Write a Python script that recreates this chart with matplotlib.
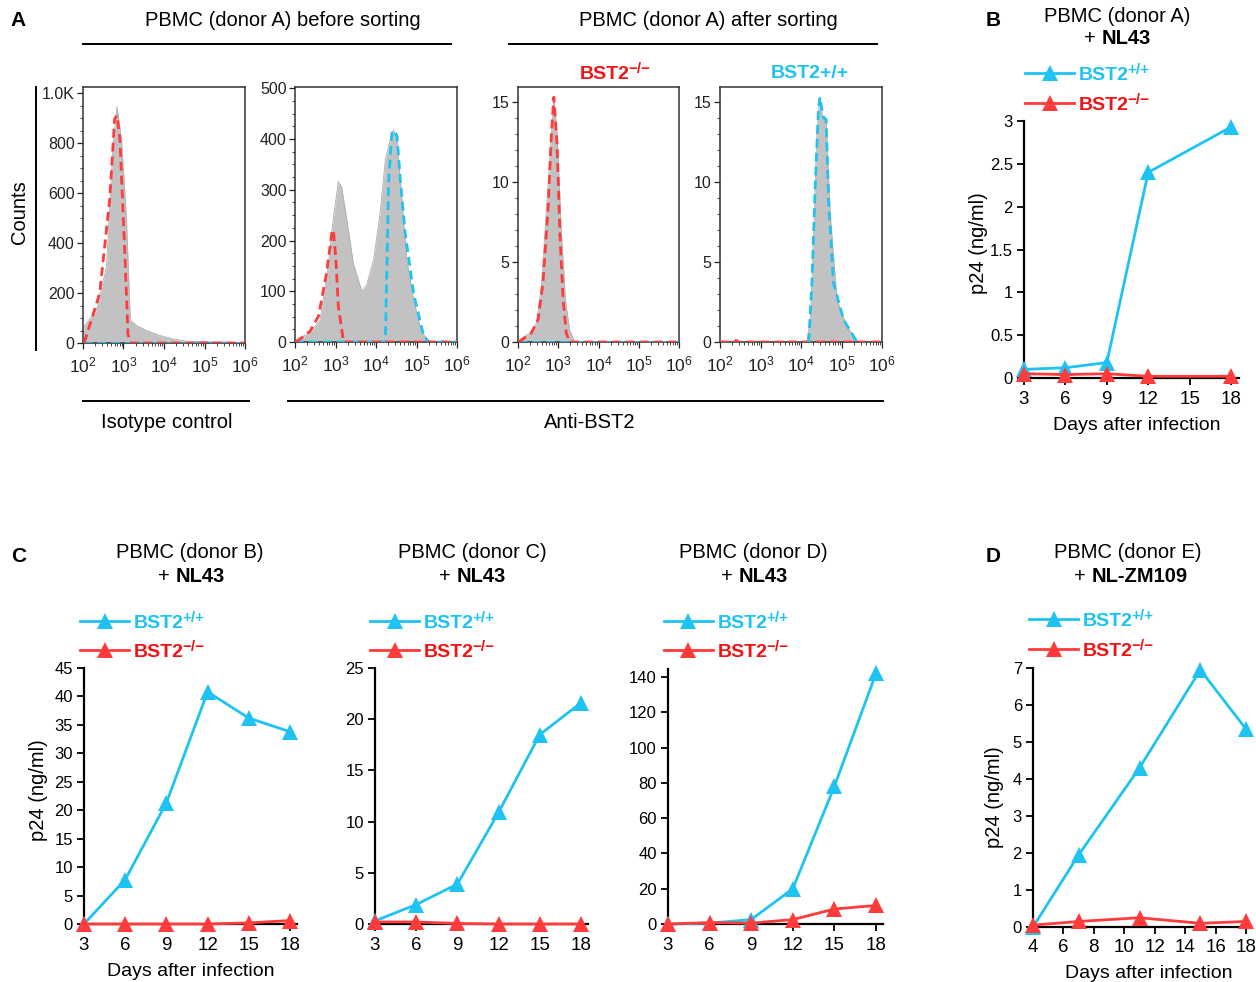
import numpy as np
import matplotlib
matplotlib.use('Agg')
import matplotlib.pyplot as plt
from matplotlib.lines import Line2D
from matplotlib.text import Annotation
from matplotlib.ticker import MultipleLocator, FixedLocator, FixedFormatter, LogLocator, NullFormatter

plt.rcParams['font.family'] = ['Liberation Sans', 'DejaVu Sans']
plt.rcParams['mathtext.fontset'] = 'custom'
plt.rcParams['mathtext.rm'] = 'Liberation Sans'
plt.rcParams['mathtext.bf'] = 'Liberation Sans:bold'
plt.rcParams['mathtext.it'] = 'Liberation Sans:italic'

# ---------------- data ----------------
# Panel A histograms: log10 fluorescence and counts
iso_grey_log = [2.0, 2.04, 2.33, 2.58, 2.74, 2.84, 2.95, 3.07, 3.17, 3.32, 3.57, 3.9, 4.23, 4.56, 6.0]
iso_grey_cnt = [40, 70, 130, 305, 790, 945, 815, 507, 90, 70, 50, 30, 16, 7, 2]
iso_red_log = [2.03, 2.41, 2.66, 2.78, 2.84, 2.91, 3.03, 3.11, 3.17, 6.0]
iso_red_cnt = [0, 198, 574, 896, 910, 816, 372, 36, 0, 0]
iso_cyan_log = [2.0, 6.0]
iso_cyan_cnt = [0, 0]

pre_grey_log = [2.0, 2.04, 2.37, 2.62, 2.82, 2.95, 3.07, 3.15, 3.28, 3.44, 3.65, 3.77, 3.94, 4.1,
                4.23, 4.35, 4.43, 4.52, 4.6, 4.76, 4.93, 5.13, 5.34, 6.0]
pre_grey_cnt = [0, 5, 18, 44, 149, 247, 316, 306, 241, 155, 100, 113, 162, 254,
                359, 398, 418, 398, 320, 162, 83, 18, 1, 0]
pre_red_log = [2.03, 2.37, 2.58, 2.78, 2.91, 2.95, 3.01, 3.07, 3.2, 6.0]
pre_red_cnt = [0, 21, 51, 136, 215, 221, 162, 70, 0, 0]
pre_cyan_log = [2.0, 4.23, 4.27, 4.31, 4.39, 4.45, 4.52, 4.6, 4.72, 4.93, 5.18, 5.3, 6.0]
pre_cyan_cnt = [0, 0, 149, 313, 411, 417, 405, 320, 215, 95, 11, 0, 0]

neg_grey_log = [2.0, 2.04, 2.29, 2.46, 2.58, 2.7, 2.83, 2.89, 2.97, 3.08, 3.18, 3.28, 3.41, 6.0]
neg_grey_cnt = [0, 0.15, 0.56, 1.18, 3.47, 8.04, 13.0, 15.3, 13.0, 6.8, 2.6, 0.77, 0, 0]
neg_red_log = [2.02, 2.33, 2.5, 2.62, 2.75, 2.83, 2.89, 2.97, 3.04, 3.12, 3.2, 3.28, 6.0]
neg_red_cnt = [0, 0.56, 1.4, 3.7, 8.46, 13.0, 15.3, 12.4, 6.8, 2.64, 0.56, 0, 0]
neg_cyan_log = [2.0, 6.0]
neg_cyan_cnt = [0, 0]

pos_grey_log = [2.0, 4.14, 4.23, 4.31, 4.39, 4.46, 4.54, 4.62, 4.72, 4.89, 5.13, 5.42, 6.0]
pos_grey_cnt = [0, 0, 1.4, 6.8, 13.0, 15.3, 13.9, 13.9, 8.04, 2.64, 0.98, 0, 0]
pos_cyan_log = [4.19, 4.27, 4.35, 4.43, 4.47, 4.54, 4.62, 4.68, 4.8, 5.05, 5.38]
pos_cyan_cnt = [0, 3.7, 9.7, 14.5, 15.3, 14.1, 13.9, 8.9, 3.7, 1.4, 0]
pos_red_log = [2.0, 2.35, 2.4, 2.45, 6.0]
pos_red_cnt = [0, 0, 0.1, 0, 0]

# Panel B (donor A, NL43)
b_days_pos = [3, 6, 9, 12, 18]
b_pos = [0.10, 0.12, 0.18, 2.40, 2.93]
b_days_neg = [3, 6, 9, 12, 18]
b_neg = [0.05, 0.04, 0.05, 0.02, 0.02]

# Panel C
c_days = [3, 6, 9, 12, 15, 18]
cB_pos = [0.0, 7.8, 21.3, 40.8, 36.2, 33.8]
cB_neg = [0.0, 0.0, 0.0, 0.0, 0.2, 0.6]
cC_pos = [0.3, 1.9, 3.9, 10.9, 18.5, 21.6]
cC_neg = [0.2, 0.2, 0.05, 0.0, 0.0, 0.0]
cD_pos = [0.0, 0.5, 2.5, 20.0, 78.0, 142.0]
cD_neg = [0.0, 0.8, 0.5, 2.5, 8.5, 10.5]

# Panel D (donor E, NL-ZM109)
d_days = [4, 7, 11, 15, 18]
d_pos = [0.0, 1.95, 4.3, 6.95, 5.35]
d_neg = [0.05, 0.15, 0.25, 0.10, 0.15]

# ---------------- style ----------------
CYAN = '#1ec3f2'
RED = '#ff3b3b'
RED_TXT = '#f01414'
CYAN_TXT = '#1ec3f2'
GREY = '#c2c2c2'
TFS = 14.5

W, H = 1256, 982
fig = plt.figure(figsize=(W / 100, H / 100), dpi=100)


def fx(px):
    return px / W


def fy(py):
    return 1 - py / H


def add_ax(l, t, r, b):
    return fig.add_axes([l / W, 1 - b / H, (r - l) / W, (b - t) / H])


def hline(x0, x1, y, lw=1.4):
    fig.add_artist(Line2D([fx(x0), fx(x1)], [fy(y), fy(y)], color='black', lw=lw))


def vline(x, y0, y1, lw=1.4):
    fig.add_artist(Line2D([fx(x), fx(x)], [fy(y0), fy(y1)], color='black', lw=lw))


def ftext(x, y, s, **kw):
    return fig.text(fx(x), fy(y), s, **kw)


def sup_label(x, baseline, sup, color, fs=14):
    t = ftext(x, baseline, 'BST2', ha='left', va='baseline', fontsize=fs, color=color,
              fontweight='bold')
    fig.add_artist(Annotation(sup, xy=(1, 0), xycoords=t, xytext=(-1.5, 10), textcoords='offset pixels',
                              ha='left', va='baseline', fontsize=fs * 0.78, color=color,
                              fontweight='bold'))


SUP_POS = '+/+'
SUP_NEG = '\u2212/\u2212'


# ---------------- Panel A ----------------
def hist_ax(l, t, r, b, ymax, yticks, ylabels, yminor, grey, lines):
    ax = add_ax(l, t, r, b)
    gl, gc = grey
    gx = [10 ** v for v in gl]
    ax.fill_between(gx, gc, 0, color=GREY, lw=0, zorder=1)
    ax.plot(gx, gc, color='#b0b0b0', lw=0.6, zorder=1)
    for (lx, lc, col) in lines:
        ax.plot([10 ** v for v in lx], lc, color=col, lw=2.0, ls=(0, (3.2, 1.8)), zorder=3)
    ax.set_xscale('log')
    ax.set_xlim(1e2, 1e6)
    ax.set_ylim(0, ymax)
    ax.xaxis.set_major_locator(LogLocator(base=10, numticks=10))
    ax.xaxis.set_minor_locator(LogLocator(base=10, subs=np.arange(2, 10), numticks=10))
    ax.xaxis.set_minor_formatter(NullFormatter())
    ax.yaxis.set_major_locator(FixedLocator(yticks))
    ax.yaxis.set_major_formatter(FixedFormatter(ylabels))
    ax.yaxis.set_minor_locator(MultipleLocator(yminor))
    ax.tick_params(which='major', direction='out', length=4, width=0.9, labelsize=11.5, colors='#222222',
                   pad=2)
    ax.tick_params(which='minor', direction='out', length=2, width=0.7, colors='#444444')
    ax.tick_params(axis='x', labelsize=12.5, pad=5)
    for s in ax.spines.values():
        s.set_linewidth(1.1)
        s.set_color('#333333')
    ax.set_facecolor('white')
    return ax


hist_ax(83, 87, 245, 343, 1024, [0, 200, 400, 600, 800, 1000],
        ['0', '200', '400', '600', '800', '1.0K'], 50,
        (iso_grey_log, iso_grey_cnt),
        [(iso_cyan_log, iso_cyan_cnt, CYAN), (iso_red_log, iso_red_cnt, RED)])
hist_ax(295, 87, 457, 342, 502.6, [0, 100, 200, 300, 400, 500],
        ['0', '100', '200', '300', '400', '500'], 25,
        (pre_grey_log, pre_grey_cnt),
        [(pre_cyan_log, pre_cyan_cnt, CYAN), (pre_red_log, pre_red_cnt, RED)])
hist_ax(518, 87, 679, 342, 15.94, [0, 5, 10, 15], ['0', '5', '10', '15'], 1,
        (neg_grey_log, neg_grey_cnt),
        [(neg_cyan_log, neg_cyan_cnt, CYAN), (neg_red_log, neg_red_cnt, RED)])
hist_ax(720, 87, 882, 342, 15.94, [0, 5, 10, 15], ['0', '5', '10', '15'], 1,
        (pos_grey_log, pos_grey_cnt),
        [(pos_red_log, pos_red_cnt, RED), (pos_cyan_log, pos_cyan_cnt, CYAN)])

vline(36, 87, 350)
ftext(20, 212, 'Counts', rotation=90, ha='center', va='center', fontsize=TFS)
ftext(18, 21, 'A', ha='center', va='center', fontsize=15, fontweight='bold')
ftext(283, 21, 'PBMC (donor A) before sorting', ha='center', va='center', fontsize=TFS)
ftext(708, 21, 'PBMC (donor A) after sorting', ha='center', va='center', fontsize=TFS)
hline(83, 451, 44)
hline(509, 877, 44)
sup_label(580, 79, SUP_NEG, RED_TXT, fs=14)
ftext(810, 73, 'BST2+/+', ha='center', va='center', fontsize=14, color=CYAN_TXT, fontweight='bold')
hline(83, 249, 401)
hline(288, 883, 401)
ftext(167, 422, 'Isotype control', ha='center', va='center', fontsize=TFS)
ftext(590, 422, 'Anti-BST2', ha='center', va='center', fontsize=TFS)


# ---------------- line charts ----------------
def line_ax(xpx0, xv0, xpx1, xv1, xlim, ypx0, ypxtop, ymax):
    ppu = (xpx1 - xpx0) / (xv1 - xv0)
    l = xpx0 - (xv0 - xlim[0]) * ppu
    r = xpx0 + (xlim[1] - xv0) * ppu
    ax = add_ax(l, ypxtop, r, ypx0)
    ax.set_xlim(*xlim)
    ax.set_ylim(0, ymax)
    for s in ['top', 'right']:
        ax.spines[s].set_visible(False)
    for s in ['left', 'bottom']:
        ax.spines[s].set_linewidth(1.6)
        ax.spines[s].set_color('black')
    ax.tick_params(axis='both', direction='out', length=5, width=1.3)
    ax.tick_params(axis='x', labelsize=13.5, pad=4)
    ax.tick_params(axis='y', labelsize=12, pad=3)
    ax.patch.set_alpha(0)
    return ax


def series(ax, x, y, color):
    ax.plot(x, y, color=color, lw=2.0, marker='^', markersize=12, markeredgewidth=0,
            clip_on=False, zorder=5)


def legend(x0, y, color, txtcolor, sup):
    fig.add_artist(Line2D([fx(x0), fx(x0 + 49)], [fy(y), fy(y)], color=color, lw=2.0))
    fig.add_artist(Line2D([fx(x0 + 24.5)], [fy(y)], color=color, marker='^', markersize=12,
                          markeredgewidth=0, lw=0))
    sup_label(x0 + 54, y + 7, sup, txtcolor)


def title2(xc, y1, y2, plus_x, top, bold):
    ftext(xc, y1, top, ha='center', va='center', fontsize=TFS)
    t1 = ftext(plus_x, y2, '+ ', ha='left', va='center', fontsize=TFS)
    fig.add_artist(Annotation(bold, xy=(1, 0.5), xycoords=t1, va='center', ha='left',
                              fontsize=TFS, fontweight='bold'))


# Panel B
ax = line_ax(1024, 3, 1231, 18, (3, 18.6), 378, 121, 3)
series(ax, b_days_pos, b_pos, CYAN)
series(ax, b_days_neg, b_neg, RED)
ax.set_xticks([3, 6, 9, 12, 15, 18])
ax.set_yticks([0, 0.5, 1, 1.5, 2, 2.5, 3])
ax.set_yticklabels(['0', '0.5', '1', '1.5', '2', '2.5', '3'])
ftext(993, 21, 'B', ha='center', va='center', fontsize=15, fontweight='bold')
title2(1117, 16, 38, 1084, 'PBMC (donor A)', 'NL43')
legend(1025, 73, CYAN, CYAN_TXT, SUP_POS)
legend(1025, 103, RED, RED_TXT, SUP_NEG)
ftext(978, 243, 'p24 (ng/ml)', rotation=90, ha='center', va='center', fontsize=TFS)
ftext(1137, 426, 'Days after infection', ha='center', va='center', fontsize=14)

# Panel C - donor B
ax = line_ax(84, 3, 290, 18, (3, 18.5), 924, 668, 45)
series(ax, c_days, cB_pos, CYAN)
series(ax, c_days, cB_neg, RED)
ax.set_xticks(c_days)
ax.set_yticks(range(0, 46, 5))
ftext(19, 557, 'C', ha='center', va='center', fontsize=15, fontweight='bold')
title2(190, 553, 576, 158, 'PBMC (donor B)', 'NL43')
legend(80, 621, CYAN, CYAN_TXT, SUP_POS)
legend(80, 650, RED, RED_TXT, SUP_NEG)
ftext(38, 790, 'p24 (ng/ml)', rotation=90, ha='center', va='center', fontsize=TFS)
ftext(191, 971, 'Days after infection', ha='center', va='center', fontsize=14)

# Panel C - donor C
ax = line_ax(375, 3, 581, 18, (3, 18.5), 924, 668, 25)
series(ax, c_days, cC_pos, CYAN)
series(ax, c_days, cC_neg, RED)
ax.set_xticks(c_days)
ax.set_yticks(range(0, 26, 5))
title2(472, 553, 576, 439, 'PBMC (donor C)', 'NL43')
legend(370, 621, CYAN, CYAN_TXT, SUP_POS)
legend(370, 650, RED, RED_TXT, SUP_NEG)

# Panel C - donor D
ax = line_ax(668, 3, 876, 18, (3, 18.5), 924, 669, 144.5)
series(ax, c_days, cD_pos, CYAN)
series(ax, c_days, cD_neg, RED)
ax.set_xticks(c_days)
ax.set_yticks(range(0, 141, 20))
title2(753, 553, 576, 721, 'PBMC (donor D)', 'NL43')
legend(664, 621, CYAN, CYAN_TXT, SUP_POS)
legend(664, 650, RED, RED_TXT, SUP_NEG)

# Panel D - donor E
ax = line_ax(1033, 4, 1246, 18, (4, 18.3), 927, 668, 7)
series(ax, d_days, d_pos, CYAN)
series(ax, d_days, d_neg, RED)
ax.set_xticks(range(4, 19, 2))
ax.set_yticks(range(0, 8))
ftext(993, 557, 'D', ha='center', va='center', fontsize=15, fontweight='bold')
title2(1128, 553, 576, 1074, 'PBMC (donor E)', 'NL-ZM109')
legend(1029, 619, CYAN, CYAN_TXT, SUP_POS)
legend(1029, 649, RED, RED_TXT, SUP_NEG)
ftext(995, 797, 'p24 (ng/ml)', rotation=90, ha='center', va='center', fontsize=TFS)
ftext(1149, 974, 'Days after infection', ha='center', va='center', fontsize=14)

fig.savefig('out.png', dpi=100, facecolor='white')
